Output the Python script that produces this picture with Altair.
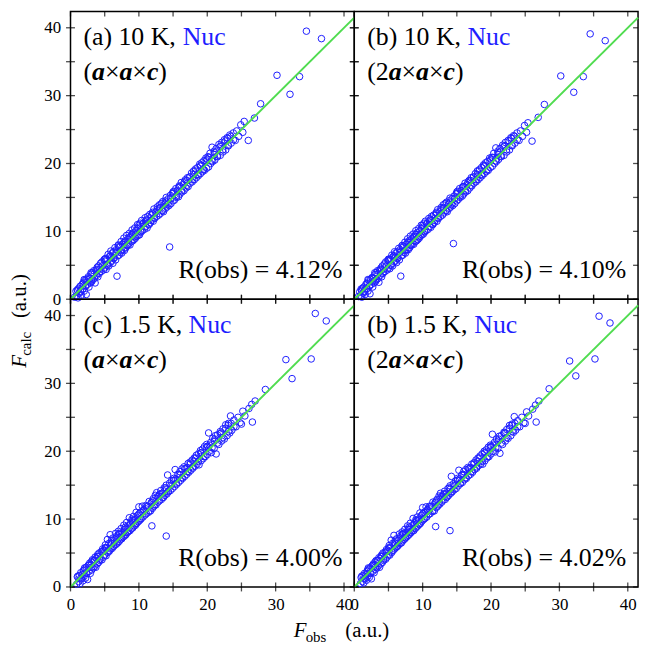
import altair as alt
import pandas as pd

FONT = "Liberation Serif"
BLUE = "#1f1fff"
GREEN = "#50dc50"

# ---------------- data ----------------
obs_10k = [0.6, 0.8, 0.9, 1.0, 1.1, 1.2, 1.3, 1.4, 1.5, 1.6, 1.7, 1.8, 1.9, 2.0, 2.1, 2.2, 2.3, 2.4, 2.5, 2.6,
           2.7, 2.8, 2.9, 3.0, 3.1, 3.2, 3.3, 3.4, 3.5, 3.6, 3.7, 3.8, 3.9, 4.0, 4.1, 4.2, 4.4, 4.5, 4.6, 4.8,
           4.9, 5.0,
           5.1, 5.2, 5.3, 5.4, 5.5, 5.6, 5.7, 5.8, 5.9, 6.0, 6.1, 6.2, 6.3, 6.4, 6.5, 6.6, 6.7, 6.8, 6.9, 7.0,
           7.1, 7.2, 7.3, 7.4, 7.5, 7.6, 7.7, 7.8, 7.9, 8.0, 8.1, 8.2, 8.3, 8.4, 8.5, 8.6, 8.7, 8.8, 8.9, 9.0,
           9.1, 9.2, 9.3, 9.4, 9.5, 9.6, 9.7, 9.8, 9.9,
           10.0, 10.1, 10.2, 10.3, 10.4, 10.5, 10.6, 10.8, 10.9, 11.0, 11.1, 11.2, 11.3, 11.5, 11.6, 11.7, 11.8, 12.0, 12.1, 12.2,
           12.3, 12.5, 12.6, 12.7, 12.9, 13.0, 13.1, 13.3, 13.4, 13.5, 13.6, 13.8, 13.9, 14.0, 14.1, 14.3, 14.5, 14.4, 14.6, 14.7,
           14.9, 15.0,
           15.1, 15.2, 15.4, 15.5, 15.6, 15.8, 15.9, 16.0, 16.2, 16.3, 16.5, 16.6, 16.8, 16.9, 17.1, 17.2, 17.4, 17.5, 17.7, 17.8,
           18.0, 18.1, 18.3, 18.4, 18.6, 18.7, 18.9, 19.0, 19.2, 19.3, 19.5, 19.6, 19.8, 19.9,
           20.1, 20.2, 20.4, 20.5, 20.7, 20.8, 21.0, 21.1, 21.3, 21.5, 21.7, 21.9, 22.1, 22.3, 22.5, 22.7, 22.9, 23.1, 23.3, 23.5,
           23.8, 24.1, 24.3, 24.6, 24.9, 25.2,
           25.4, 26.0, 26.9, 27.8, 30.2, 32.1, 33.5, 34.5, 36.7]

calc_a = [0.3, 1.2, 0.5, 1.4, 0.2, 1.6, 0.9, 1.9, 1.1, 0.6, 2.2, 1.5, 2.5, 1.2, 2.8, 1.9, 0.7, 2.9, 2.2, 3.3,
          1.8, 3.0, 2.4, 3.7, 2.6, 3.9, 2.9, 4.2, 3.1, 2.4, 4.3, 3.5, 4.7, 3.3, 4.9, 3.8, 5.3, 4.1, 5.5, 4.3,
          5.8, 4.6,
          6.0, 4.4, 5.9, 5.0, 6.6, 4.9, 6.3, 5.4, 7.1, 5.6, 6.8, 5.3, 7.0, 6.1, 7.6, 5.8, 7.3, 3.4, 6.4, 8.0,
          6.5, 7.8, 6.9, 8.5, 6.8, 8.1, 7.3, 9.0, 7.2, 8.6, 7.6, 9.4, 7.9, 8.9, 8.1, 9.7, 8.0, 9.3, 8.5, 10.2,
          8.6, 9.8, 8.8, 10.5, 9.0, 10.1, 9.3, 11.0, 9.4,
          10.6, 9.5, 11.2, 9.9, 11.6, 10.1, 11.1, 10.3, 12.0, 10.7, 11.7, 10.5, 12.2, 11.0, 12.5, 11.3, 11.6, 12.8, 11.5, 13.3,
          11.9, 12.9, 12.2, 13.6, 12.4, 13.9, 12.6, 14.1, 13.0, 14.4, 12.9, 14.0, 13.4, 15.0, 13.6, 14.8, 7.7, 13.8, 15.3, 14.1,
          15.6, 14.5,
          15.9, 14.6, 16.3, 15.0, 16.0, 15.1, 16.7, 15.5, 17.2, 15.8, 16.9, 16.0, 17.6, 16.4, 17.9, 16.6, 18.0, 17.1, 18.6, 17.3,
          18.9, 17.6, 19.2, 17.9, 19.4, 18.2, 19.9, 18.5, 20.1, 18.8, 20.4, 19.0, 20.8, 19.3,
          21.0, 19.5, 21.5, 20.0, 22.4, 20.3, 21.8, 20.5, 22.2, 21.0, 22.8, 21.2, 23.1, 21.7, 23.5, 22.0, 23.8, 22.6, 24.2, 23.0,
          24.5, 23.4, 24.8, 24.0, 25.7, 24.6,
          26.2, 23.4, 26.7, 28.8, 33.0, 30.2, 32.8, 39.5, 38.4]

calc_b = [0.4, 1.1, 0.5, 1.5, 0.3, 1.6, 0.9, 1.8, 1.1, 0.7, 2.2, 1.5, 2.4, 1.2, 2.8, 1.9, 0.8, 2.9, 2.2, 3.2,
          1.8, 3.0, 2.4, 3.6, 2.6, 3.9, 2.9, 4.2, 3.1, 2.5, 4.3, 3.5, 4.6, 3.3, 4.9, 3.8, 5.2, 4.1, 5.5, 4.3,
          5.7, 4.6,
          5.9, 4.5, 5.9, 5.0, 6.5, 4.9, 6.3, 5.5, 7.0, 5.6, 6.8, 5.4, 7.0, 6.1, 7.5, 5.8, 7.3, 3.4, 6.4, 7.9,
          6.5, 7.8, 6.9, 8.4, 6.8, 8.1, 7.3, 8.9, 7.3, 8.6, 7.6, 9.3, 7.9, 8.9, 8.1, 9.6, 8.1, 9.3, 8.5, 10.1,
          8.6, 9.8, 8.8, 10.4, 9.0, 10.1, 9.3, 10.9, 9.5,
          10.6, 9.6, 11.2, 9.9, 11.5, 10.1, 11.1, 10.3, 11.9, 10.7, 11.7, 10.6, 12.2, 11.0, 12.4, 11.3, 11.6, 12.8, 11.5, 13.2,
          11.9, 12.9, 12.2, 13.5, 12.4, 13.9, 12.7, 14.1, 13.0, 14.3, 12.9, 14.0, 13.4, 14.9, 13.6, 14.8, 8.2, 13.8, 15.2, 14.1,
          15.5, 14.5,
          15.9, 14.7, 16.3, 15.0, 16.0, 15.2, 16.6, 15.5, 17.1, 15.8, 16.9, 16.0, 17.5, 16.4, 17.9, 16.7, 18.0, 17.1, 18.5, 17.3,
          18.9, 17.6, 19.1, 17.9, 19.4, 18.2, 19.8, 18.5, 20.1, 18.8, 20.3, 19.0, 20.8, 19.4,
          20.9, 19.6, 21.5, 20.0, 22.3, 20.3, 21.8, 20.6, 22.2, 21.0, 22.7, 21.2, 23.1, 21.7, 23.4, 22.0, 23.8, 22.6, 24.1, 23.0,
          24.5, 23.4, 24.8, 24.0, 25.6, 24.6,
          26.0, 23.3, 26.8, 28.7, 32.9, 30.5, 32.8, 39.1, 38.1]

# extra reflections filling the middle of the 10 K band (shown in panels a and b)
obs_10k_fill = [1.05, 1.45, 1.85, 2.25, 2.65, 3.05, 3.45, 3.85, 4.25, 4.65, 5.05, 5.45, 5.85, 6.25, 6.65, 7.05,
                7.45, 7.85, 8.25, 8.65, 9.05, 9.45, 9.85, 10.25, 10.65, 11.05, 11.45, 11.85, 12.25, 12.65, 13.05,
                13.45, 13.85, 14.25, 14.65, 15.05, 15.45, 15.85, 16.25, 16.65, 17.05, 17.45, 17.85, 18.25, 18.65,
                19.05, 19.45, 19.85, 20.25, 20.65, 21.05, 21.45, 21.85, 22.25, 22.65, 23.05, 23.45, 23.85,
                2.0, 3.0, 4.0, 5.0, 6.0, 7.0, 8.0, 9.0, 10.0, 11.0, 12.0, 13.0, 14.0, 15.0, 16.0, 17.0, 18.0,
                19.0, 20.0, 21.0, 22.0, 23.0]
calc_10k_fill = [1.3, 1.2, 2.3, 2.0, 3.1, 2.8, 3.7, 4.4, 4.0, 4.9, 5.6, 5.2, 6.4, 6.0, 6.9, 7.6,
                 7.2, 8.4, 8.0, 9.1, 9.6, 9.2, 10.4, 10.0, 11.2, 11.6, 11.1, 12.4, 12.0, 13.2, 13.5,
                 13.1, 14.5, 14.0, 14.8, 15.6, 15.2, 16.5, 16.0, 17.3, 16.8, 18.0, 17.6, 18.9, 18.4,
                 19.7, 19.1, 20.4, 20.9, 20.4, 21.6, 21.1, 22.5, 22.0, 23.3, 22.7, 24.0, 23.5,
                 2.9, 3.9, 4.3, 5.9, 6.2, 7.9, 8.4, 9.5, 10.9, 11.4, 12.6, 13.4, 14.3, 15.8, 16.6, 17.5, 18.4,
                 19.6, 20.6, 21.3, 22.6, 23.7]

obs_15k = [0.9, 1.0, 1.2, 1.3, 1.4, 1.5, 1.6, 1.7, 1.8, 1.9, 2.0, 2.1, 2.2, 2.3, 2.4, 2.5, 2.6, 2.7, 2.8, 2.9,
           3.0, 3.1, 3.2, 3.3, 3.4, 3.5, 3.6, 3.7, 3.8, 3.9, 4.0, 4.1, 4.2, 4.3, 4.5, 4.6, 4.7, 4.8, 4.9, 5.0,
           5.1, 5.2, 5.3, 5.4, 5.5, 5.6, 5.7, 5.8, 5.9, 6.0, 6.1, 6.2, 6.3, 6.4, 6.5, 6.6, 6.7, 6.8, 6.9, 7.0,
           7.1, 7.2, 7.3, 7.4, 7.5, 7.6, 7.7, 7.8, 7.9, 8.0, 8.1, 8.2, 8.3, 8.4, 8.5, 8.6, 8.7, 8.8, 8.9, 9.0,
           9.1, 9.2, 9.3, 9.4, 9.5, 9.6, 9.7, 9.8, 9.9,
           10.0, 10.1, 10.2, 10.3, 10.5, 10.6, 10.7, 10.9, 11.0, 11.1, 11.3, 11.4, 11.5, 11.7, 11.8, 11.9, 12.0, 12.1, 12.2, 12.4,
           12.5, 12.6, 12.8, 12.9, 13.0, 13.2, 13.3, 13.4, 13.6, 13.7, 13.8, 14.0, 14.0, 14.1, 14.2, 14.3, 14.5, 14.6, 14.8, 14.9,
           15.1, 15.2, 15.3, 15.4, 15.5, 15.7, 15.8, 16.0, 16.1, 16.3, 16.4, 16.6, 16.7, 16.9, 17.0, 17.2, 17.3, 17.5, 17.6, 17.8,
           17.9, 18.1, 18.2, 18.4, 18.5, 18.7, 18.8, 19.0, 19.1, 19.3, 19.4, 19.6, 19.7, 19.9,
           20.0, 20.2, 20.3, 20.5, 20.6, 20.8, 21.0, 21.2, 21.3, 21.5, 21.7, 21.9, 22.1, 22.3, 22.5, 22.7, 22.9, 23.1, 23.3, 23.4,
           23.6, 23.9, 24.2, 24.5, 24.8, 25.0, 25.2, 25.5, 26.1, 26.5, 27.0,
           26.6, 28.5, 31.5, 32.4, 35.2, 35.8, 37.4]

calc_c = [0.4, 1.5, 0.8, 1.7, 0.5, 2.1, 1.2, 1.8, 0.9, 2.4, 1.6, 2.6, 1.3, 2.9, 2.0, 1.1, 3.2, 2.3, 3.5, 2.0,
          3.3, 2.5, 4.0, 2.8, 3.9, 3.0, 4.4, 2.9, 4.2, 3.4, 4.8, 3.6, 5.0, 3.9, 5.2, 4.0, 5.6, 4.4, 5.4, 4.7,
          6.2, 4.6, 5.8, 7.0, 5.1, 6.4, 5.3, 7.7, 5.6, 6.9, 5.7, 7.2, 6.0, 6.8, 6.2, 7.9, 6.3, 7.5, 6.5, 8.2,
          6.7, 7.9, 7.0, 8.6, 7.1, 8.0, 7.4, 9.1, 7.5, 8.8, 7.7, 9.5, 8.0, 9.0, 8.2, 10.2, 8.3, 9.4, 8.6, 10.0,
          8.7, 10.4, 9.0, 9.9, 9.1, 11.0, 9.4, 10.5, 9.6,
          11.8, 9.8, 11.0, 10.0, 11.9, 10.3, 11.4, 10.6, 12.0, 10.8, 11.9, 11.0, 12.6, 11.2, 12.4, 9.0, 11.6, 13.0, 11.9, 13.5,
          12.1, 13.9, 12.5, 13.4, 12.7, 14.2, 12.9, 13.8, 13.2, 14.6, 13.5, 15.0, 7.5, 13.7, 16.5, 14.0, 15.3, 14.2, 15.7, 14.5,
          16.0, 14.8, 17.3, 15.9, 15.1, 16.6, 15.4, 17.0, 15.7, 17.4, 16.0, 17.7, 16.3, 17.5, 16.6, 18.2, 16.9, 18.4, 17.2, 18.7,
          17.5, 19.0, 17.8, 19.4, 18.1, 19.6, 18.0, 20.1, 18.6, 20.3, 18.9, 20.7, 19.2, 21.0,
          19.5, 22.7, 20.0, 21.3, 19.8, 21.9, 20.4, 22.3, 19.6, 22.4, 21.0, 22.9, 21.5, 23.3, 21.8, 23.9, 22.3, 24.1, 22.7, 25.2,
          23.1, 24.6, 23.6, 25.0, 24.2, 24.0, 25.9, 25.2, 26.3, 26.9, 27.4,
          24.3, 29.1, 33.5, 30.7, 33.6, 40.3, 39.2]

calc_d = [0.5, 1.4, 0.8, 1.7, 0.6, 2.0, 1.2, 1.8, 1.0, 2.3, 1.6, 2.6, 1.4, 2.8, 2.0, 1.2, 3.1, 2.3, 3.4, 2.1,
          3.3, 2.6, 3.9, 2.8, 3.9, 3.1, 4.3, 2.9, 4.2, 3.4, 4.7, 3.6, 5.0, 3.9, 5.1, 4.1, 5.5, 4.4, 5.4, 4.7,
          6.1, 4.7, 5.8, 6.9, 5.1, 6.4, 5.4, 7.6, 5.6, 6.9, 5.8, 7.1, 6.0, 6.8, 6.2, 7.8, 6.4, 7.5, 6.5, 8.1,
          6.8, 7.9, 7.0, 8.5, 7.2, 8.0, 7.4, 9.0, 7.6, 8.8, 7.8, 9.4, 8.0, 9.0, 8.3, 10.1, 8.3, 9.4, 8.6, 9.9,
          8.8, 10.3, 9.0, 9.9, 9.2, 10.9, 9.4, 10.5, 9.7,
          11.7, 9.9, 11.0, 10.1, 11.8, 10.3, 11.4, 10.7, 11.9, 10.8, 11.9, 11.1, 12.5, 11.2, 12.4, 8.9, 11.7, 12.9, 11.9, 13.4,
          12.2, 13.8, 12.5, 13.4, 12.8, 14.1, 12.9, 13.8, 13.3, 14.5, 13.5, 14.9, 8.3, 13.8, 16.3, 14.0, 15.2, 14.3, 15.6, 14.5,
          16.0, 14.9, 17.2, 15.9, 15.2, 16.5, 15.4, 17.0, 15.8, 17.3, 16.0, 17.6, 16.4, 17.5, 16.6, 18.1, 16.9, 18.3, 17.3, 18.7,
          17.5, 19.0, 17.9, 19.3, 18.1, 19.6, 18.1, 20.0, 18.6, 20.2, 19.0, 20.6, 19.2, 20.9,
          19.6, 22.5, 20.0, 21.3, 19.9, 21.8, 20.4, 22.2, 19.7, 22.3, 21.0, 22.8, 21.5, 23.2, 21.9, 23.8, 22.3, 24.0, 22.8, 25.1,
          23.1, 24.5, 23.6, 25.0, 24.2, 24.1, 25.8, 25.2, 26.2, 26.8, 27.4,
          24.3, 29.2, 33.3, 31.1, 33.6, 39.9, 38.9]

# extra reflections filling the middle of the 1.5 K band (shown in panels c and d)
obs_15k_fill = [1.1, 1.5, 1.9, 2.3, 2.7, 3.1, 3.5, 3.9, 4.3, 4.7, 5.1, 5.5, 5.9, 6.3, 6.7, 7.1, 7.5, 7.9,
                8.3, 8.7, 9.1, 9.5, 9.9, 10.3, 10.7, 11.1, 11.5, 11.9, 12.3, 12.7, 13.1, 13.5, 13.9, 14.3,
                14.7, 15.1, 15.5, 15.9, 16.3, 16.7, 17.1, 17.5, 17.9, 18.3, 18.7, 19.1, 19.5, 19.9, 20.3,
                20.7, 21.1, 21.5, 21.9, 22.3, 22.7, 23.1, 23.5, 23.9,
                2.05, 3.05, 4.05, 5.05, 6.05, 7.05, 8.05, 9.05, 10.05, 11.05, 12.05, 13.05, 14.05, 15.05,
                16.05, 17.05, 18.05, 19.05, 20.05, 21.05, 22.05, 23.05]
calc_15k_fill = [1.6, 1.3, 2.4, 2.1, 3.2, 2.9, 3.9, 4.5, 4.1, 5.2, 5.7, 5.3, 6.5, 6.0, 7.2, 7.7, 7.3, 8.5,
                 8.1, 9.2, 9.8, 9.3, 10.6, 10.1, 11.3, 11.8, 11.2, 12.5, 12.1, 13.3, 13.7, 13.2, 14.6, 14.1,
                 15.0, 15.7, 15.3, 16.6, 16.1, 17.4, 17.0, 18.1, 17.7, 19.0, 18.5, 19.8, 19.2, 20.6, 20.9,
                 20.5, 21.8, 21.2, 22.6, 22.0, 23.4, 22.9, 24.1, 23.6,
                 2.8, 3.7, 4.5, 5.8, 6.4, 7.8, 8.5, 9.6, 10.8, 11.5, 12.7, 13.6, 14.4, 15.7,
                 16.5, 17.6, 18.5, 19.7, 20.7, 21.5, 22.7, 23.8]

panel_tags = ["(a) 10 K, ", "(b) 10 K, ", "(c) 1.5 K, ", "(b) 1.5 K, "]
cell_prefix = ["(", "(2", "(", "(2"]
r_obs_text = ["R(obs) = 4.12%", "R(obs) = 4.10%", "R(obs) = 4.00%", "R(obs) = 4.02%"]
label_ticks = [0, 10, 20, 30, 40]
all_ticks = [0, 5, 10, 15, 20, 25, 30, 35, 40]
ideal_line = [0, 41.5]

# ---------------- layout ----------------
# whole svg must stay <= 635 px wide (page body width), else the page shrinks it
W, H = 286, 290
XMAX, YMAX = 41.5, 42.4
dummy = pd.DataFrame({"k": [0]})
PAD0 = {"left": 0, "top": 0, "right": 0, "bottom": 0}


def txt(s, x, y, size=26, color="black", style=None, weight=None, align="left", angle=None):
    kw = dict(text=s, font=FONT, fontSize=size, color=color, align=align, baseline="alphabetic")
    if style:
        kw["fontStyle"] = style
    if weight:
        kw["fontWeight"] = weight
    if angle is not None:
        kw["angle"] = angle
    return alt.Chart(dummy).mark_text(**kw).encode(x=alt.value(x), y=alt.value(y))


def panel(i, obs, calc, obs_fill, calc_fill, nuc_x, left, bottom, top, right):
    xs = alt.Scale(domain=[0, XMAX], nice=False, zero=False)
    ys = alt.Scale(domain=[0, YMAX], nice=False, zero=False)
    common = dict(values=label_ticks, ticks=False, tickSize=0, domain=False, grid=False,
                  labelFont=FONT, labelFontSize=17, labelColor="black", labelFlush=False, title=None)
    xaxis = alt.Axis(labelPadding=10, **common) if bottom else None
    yaxis = alt.Axis(labelPadding=10, **common) if left else None

    def X(f):
        return alt.X(f, scale=xs, axis=xaxis)

    def Y(f):
        return alt.Y(f, scale=ys, axis=yaxis)

    df = pd.DataFrame({"obs": list(obs) + list(obs_fill), "calc": list(calc) + list(calc_fill)})
    pts = alt.Chart(df).mark_point(shape="circle", filled=False, color=BLUE, size=44,
                                   strokeWidth=1, opacity=1).encode(x=X("obs:Q"), y=Y("calc:Q"))
    ldf = pd.DataFrame({"obs": ideal_line, "calc": ideal_line})
    line = alt.Chart(ldf).mark_line(color=GREEN, strokeWidth=2).encode(
        x=X("obs:Q"), y=Y("calc:Q"))

    tdf = pd.DataFrame({"obs": all_ticks, "calc": all_ticks})
    tk = dict(color="black", thickness=1.3)
    t_left = alt.Chart(tdf).mark_tick(orient="horizontal", size=9, **tk).encode(
        y=Y("calc:Q"), x=alt.value(0))
    if right:
        t_right = alt.Chart(tdf).mark_tick(orient="horizontal", size=5, **tk).encode(
            y=Y("calc:Q"), x=alt.value(W - 2.5))
    else:
        t_right = alt.Chart(tdf).mark_tick(orient="horizontal", size=9, **tk).encode(
            y=Y("calc:Q"), x=alt.value(W))
    t_bottom = alt.Chart(tdf).mark_tick(orient="vertical", size=9, **tk).encode(
        x=X("obs:Q"), y=alt.value(H))
    if top:
        t_top = alt.Chart(tdf).mark_tick(orient="vertical", size=5, **tk).encode(
            x=X("obs:Q"), y=alt.value(2.5))
    else:
        t_top = alt.Chart(tdf).mark_tick(orient="vertical", size=9, **tk).encode(
            x=X("obs:Q"), y=alt.value(0))

    layers = [pts, line, t_left, t_right, t_bottom, t_top]

    # panel label
    layers.append(txt(panel_tags[i], 13, 34))
    layers.append(txt("Nuc", nuc_x, 34, color=BLUE))
    # cell line (mixed regular / bold italic)
    x0 = 13
    pre = cell_prefix[i]
    pre_w = 8.66 if pre == "(" else 21.66
    xa1 = x0 + pre_w
    xm1 = xa1 + 13.0
    xa2 = xm1 + 14.66
    xm2 = xa2 + 13.0
    xc = xm2 + 14.66
    xr = xc + 11.54
    layers += [
        txt(pre, x0, 69),
        txt("a", xa1, 69, style="italic", weight="bold"),
        txt("×", xm1, 69),
        txt("a", xa2, 69, style="italic", weight="bold"),
        txt("×", xm2, 69),
        txt("c", xc, 69, style="italic", weight="bold"),
        txt(")", xr, 69),
    ]
    layers.append(txt(r_obs_text[i], W - 12, H - 21, align="right"))

    if i == 2:
        # shared axis titles, placed once
        layers += [
            txt("F", -45, 69, size=21, style="italic", angle=270),
            txt("calc", -40, 57, size=15, angle=270),
            txt("(a.u.)", -45, 19, size=21, angle=270),
            txt("F", 225, H + 50, size=21, style="italic"),
            txt("obs", 237, H + 55, size=15),
            txt("(a.u.)", 277, H + 50, size=21),
        ]
    return alt.layer(*layers).properties(width=W, height=H)


pa = panel(0, obs_10k, calc_a, obs_10k_fill, calc_10k_fill, 113, left=True, bottom=False, top=True, right=False)
pb = panel(1, obs_10k, calc_b, obs_10k_fill, calc_10k_fill, 114, left=False, bottom=False, top=True, right=True)
pc = panel(2, obs_15k, calc_c, obs_15k_fill, calc_15k_fill, 119, left=True, bottom=True, top=False, right=False)
pd_ = panel(3, obs_15k, calc_d, obs_15k_fill, calc_15k_fill, 121, left=False, bottom=True, top=False, right=True)

chart = alt.concat(pa, pb, pc, pd_, columns=2, spacing=0, bounds="flush", padding=PAD0).configure_view(
    stroke="black", strokeWidth=1.5)

chart.save("out.html", embed_options={"renderer": "svg", "actions": False})
